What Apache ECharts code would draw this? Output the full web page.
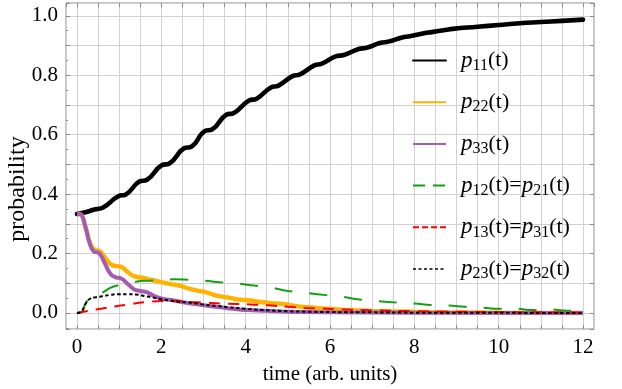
<!DOCTYPE html>
<html>
<head>
<meta charset="utf-8">
<script src="https://cdn.jsdelivr.net/npm/echarts@6/dist/echarts.min.js"></script>
<style>
html,body{margin:0;padding:0;background:#fff;}
#chart{width:622px;height:389px;}
</style>
</head>
<body>
<div id="chart"></div>
<script>
// ---- data: [time, probability] ----
const p11 = [[0,0.333],[0.15,0.337],[0.44,0.349],[0.62,0.355],[0.98,0.393],[1.16,0.399],
  [1.48,0.442],[1.66,0.448],[2.01,0.497],[2.19,0.503],[2.54,0.554],[2.72,0.560],
  [3.03,0.612],[3.21,0.618],[3.54,0.667],[3.72,0.673],[4.08,0.715],[4.26,0.721],
  [4.60,0.759],[4.78,0.765],[5.11,0.797],[5.29,0.803],[5.63,0.833],[5.81,0.839],
  [6.15,0.864],[6.33,0.868],[6.68,0.888],[6.86,0.892],[7.20,0.909],[7.38,0.913],
  [7.71,0.927],[7.89,0.931],[8.23,0.941],[8.41,0.945],[8.73,0.952],[8.91,0.956],
  [9.5,0.963],[10,0.969],[10.5,0.975],[11,0.979],[11.5,0.983],[12,0.987]];
const p22 = [[0,0.333],[0.08,0.332],[0.2,0.29],[0.3,0.24],[0.4,0.214],[0.55,0.207],
  [0.7,0.18],[0.85,0.16],[1.05,0.155],[1.2,0.138],[1.35,0.124],[1.6,0.117],
  [1.8,0.11],[2.0,0.104],[2.2,0.098],[2.45,0.091],[2.65,0.082],[2.85,0.075],
  [3.05,0.07],[3.25,0.061],[3.45,0.055],[3.65,0.05],[3.85,0.045],[4.1,0.042],
  [4.35,0.037],[4.6,0.033],[4.9,0.03],[5.2,0.023],[5.5,0.019],[5.9,0.014],
  [6.4,0.01],[7,0.007],[8,0.004],[9,0.002],[10,0.001],[12,0]];
const p33 = [[0,0.333],[0.08,0.332],[0.2,0.29],[0.3,0.235],[0.4,0.207],[0.52,0.202],
  [0.65,0.17],[0.8,0.13],[0.92,0.12],[1.05,0.116],[1.2,0.098],[1.35,0.08],
  [1.5,0.074],[1.65,0.07],[1.85,0.056],[2.05,0.047],[2.3,0.042],[2.55,0.035],
  [2.8,0.03],[3.1,0.024],[3.4,0.019],[3.7,0.014],[4,0.01],[4.5,0.007],[5,0.004],
  [6,0.002],[8,0.001],[12,0]];
const p12 = [[0,0],[0.1,0.002],[0.2,0.03],[0.3,0.05],[0.45,0.058],[0.6,0.068],[0.8,0.085],
  [1.0,0.094],[1.2,0.1],[1.4,0.105],[1.6,0.108],[1.8,0.109],[2.0,0.111],[2.3,0.113],
  [2.6,0.112],[3.0,0.109],[3.4,0.103],[3.8,0.099],[4.2,0.092],[4.6,0.085],[5.0,0.074],
  [5.5,0.066],[5.9,0.06],[6.3,0.054],[6.7,0.045],[7.1,0.04],[7.5,0.036],[8,0.032],
  [8.4,0.027],[8.8,0.025],[9.2,0.021],[9.6,0.018],[10,0.014],[10.4,0.014],[10.8,0.01],
  [11.2,0.012],[11.6,0.008],[12,0.006]];
const p13 = [[0,0],[0.3,0.008],[0.6,0.015],[0.9,0.022],[1.2,0.028],[1.6,0.036],[2.0,0.04],
  [2.4,0.04],[2.7,0.037],[3.0,0.035],[3.4,0.032],[3.8,0.03],[4.2,0.028],[4.6,0.025],
  [5.0,0.021],[5.4,0.017],[5.8,0.015],[6.3,0.012],[7,0.009],[8,0.006],[9,0.004],
  [10,0.003],[11,0.002],[12,0.001]];
const p23 = [[0,0],[0.1,0.004],[0.2,0.03],[0.3,0.047],[0.45,0.053],[0.6,0.056],[0.8,0.061],
  [1.0,0.063],[1.2,0.063],[1.4,0.062],[1.6,0.057],[1.8,0.052],[2.0,0.046],[2.2,0.042],
  [2.4,0.038],[2.6,0.036],[2.8,0.033],[3.0,0.028],[3.3,0.024],[3.6,0.019],[4.0,0.014],
  [4.4,0.01],[5,0.006],[5.5,0.004],[6,0.003],[7,0.002],[8,0.001],[12,0]];

const legendLabels = {
  p11: '{i|p}{s|11}{n|(t)}',
  p22: '{i|p}{s|22}{n|(t)}',
  p33: '{i|p}{s|33}{n|(t)}',
  p12: '{i|p}{s|12}{n|(t)=}{i|p}{s|21}{n|(t)}',
  p13: '{i|p}{s|13}{n|(t)=}{i|p}{s|31}{n|(t)}',
  p23: '{i|p}{s|23}{n|(t)=}{i|p}{s|32}{n|(t)}'
};
const xAxisName = 'time (arb. units)';
const yAxisName = 'probability';

const FONT = '"Liberation Serif","Times New Roman",serif';
const GRID_C = '#d0d0d0';
const FRAME_C = '#8a8a8a';

function isMult(v, m){ return Math.abs(v/m - Math.round(v/m)) < 1e-6; }

const chart = echarts.init(document.getElementById('chart'), null, {renderer:'canvas'});

const lineBase = {type:'line', showSymbol:false, symbol:'none', smooth:0.5, animation:false};
const noSym = {opacity:0};

chart.setOption({
  animation:false,
  grid:{left:66, right:28, top:3, bottom:60, show:true, borderColor:FRAME_C, borderWidth:1,
        containLabel:false, outerBoundsMode:'none'},
  xAxis:[{
    type:'value', min:-0.26, max:12.26, splitNumber:25,
    name:xAxisName, nameLocation:'middle', nameGap:35, nameMoveOverlap:false,
    nameTextStyle:{fontFamily:FONT, fontSize:21, color:'#000'},
    axisLine:{show:false, onZero:false},
    axisTick:{show:true, inside:true, length:4, lineStyle:{color:FRAME_C}},
    splitLine:{show:true, lineStyle:{color:GRID_C, width:1}},
    axisLabel:{fontFamily:FONT, fontSize:21, color:'#000', margin:8,
      showMinLabel:false, showMaxLabel:false,
      formatter:v => isMult(v,2) ? String(Math.round(v)) : ''}
  },{
    type:'value', position:'top', min:-0.26, max:12.26, splitNumber:25,
    axisLine:{show:false, onZero:false}, axisLabel:{show:false}, splitLine:{show:false},
    axisTick:{show:true, inside:true, length:4, lineStyle:{color:FRAME_C}}
  }],
  yAxis:[{
    type:'value', min:-0.054, max:1.043, splitNumber:11,
    name:yAxisName, nameLocation:'middle', nameGap:36, nameMoveOverlap:false,
    nameTextStyle:{fontFamily:FONT, fontSize:24, color:'#000', padding:[0,46,0,0]},
    axisLine:{show:false, onZero:false},
    axisTick:{show:true, inside:true, length:4, lineStyle:{color:FRAME_C}},
    minorTick:{show:true, splitNumber:2, length:2, lineStyle:{color:FRAME_C}},
    splitLine:{show:true, lineStyle:{color:GRID_C, width:1}},
    axisLabel:{fontFamily:FONT, fontSize:21, color:'#000', margin:8,
      showMinLabel:false, showMaxLabel:false,
      formatter:v => isMult(v,0.2) ? v.toFixed(1) : ''}
  },{
    type:'value', position:'right', min:-0.054, max:1.043, splitNumber:11,
    axisLine:{show:false, onZero:false}, axisLabel:{show:false}, splitLine:{show:false},
    axisTick:{show:true, inside:true, length:4, lineStyle:{color:FRAME_C}}
  }],
  legend:{
    orient:'vertical', left:412, top:49, padding:0, itemWidth:33, itemHeight:14, itemGap:17.2,
    selectedMode:false,
    itemStyle:noSym,
    formatter:name => legendLabels[name],
    textStyle:{
      fontFamily:FONT, fontSize:22, color:'#000', padding:[0,0,0,10],
      rich:{
        i:{fontFamily:FONT, fontStyle:'italic', fontSize:23, lineHeight:26, verticalAlign:'middle', color:'#000'},
        n:{fontFamily:FONT, fontSize:22, lineHeight:26, verticalAlign:'middle', color:'#000'},
        s:{fontFamily:FONT, fontSize:16, lineHeight:16, verticalAlign:'bottom', color:'#000'}
      }
    },
    data:[
      {name:'p11', itemStyle:noSym, lineStyle:{width:2}},
      {name:'p22', itemStyle:noSym, lineStyle:{width:2}},
      {name:'p33', itemStyle:noSym, lineStyle:{width:2}},
      {name:'p12', itemStyle:noSym, lineStyle:{width:2, type:[12,8]}},
      {name:'p13', itemStyle:noSym, lineStyle:{width:2, type:[6,3]}},
      {name:'p23', itemStyle:noSym, lineStyle:{width:1.6, type:[3,2.5]}}
    ]
  },
  series:[
    Object.assign({}, lineBase, {name:'p11', data:p11, lineStyle:{color:'#000', width:4.6, cap:'round'}, itemStyle:{color:'#000'}}),
    Object.assign({}, lineBase, {name:'p22', data:p22, lineStyle:{color:'#ffb300', width:4.4}, itemStyle:{color:'#ffb300'}}),
    Object.assign({}, lineBase, {name:'p33', data:p33, lineStyle:{color:'#a45cb2', width:4}, itemStyle:{color:'#a45cb2'}}),
    Object.assign({}, lineBase, {name:'p12', data:p12, lineStyle:{color:'#12a012', width:2, type:[18,17]}, itemStyle:{color:'#12a012'}}),
    Object.assign({}, lineBase, {name:'p13', data:p13, lineStyle:{color:'#ff0000', width:2, type:[11,8]}, itemStyle:{color:'#ff0000'}}),
    Object.assign({}, lineBase, {name:'p23', data:p23, lineStyle:{color:'#000', width:2, type:[3.5,2.5]}, itemStyle:{color:'#000'}})
  ]
});
</script>
</body>
</html>
